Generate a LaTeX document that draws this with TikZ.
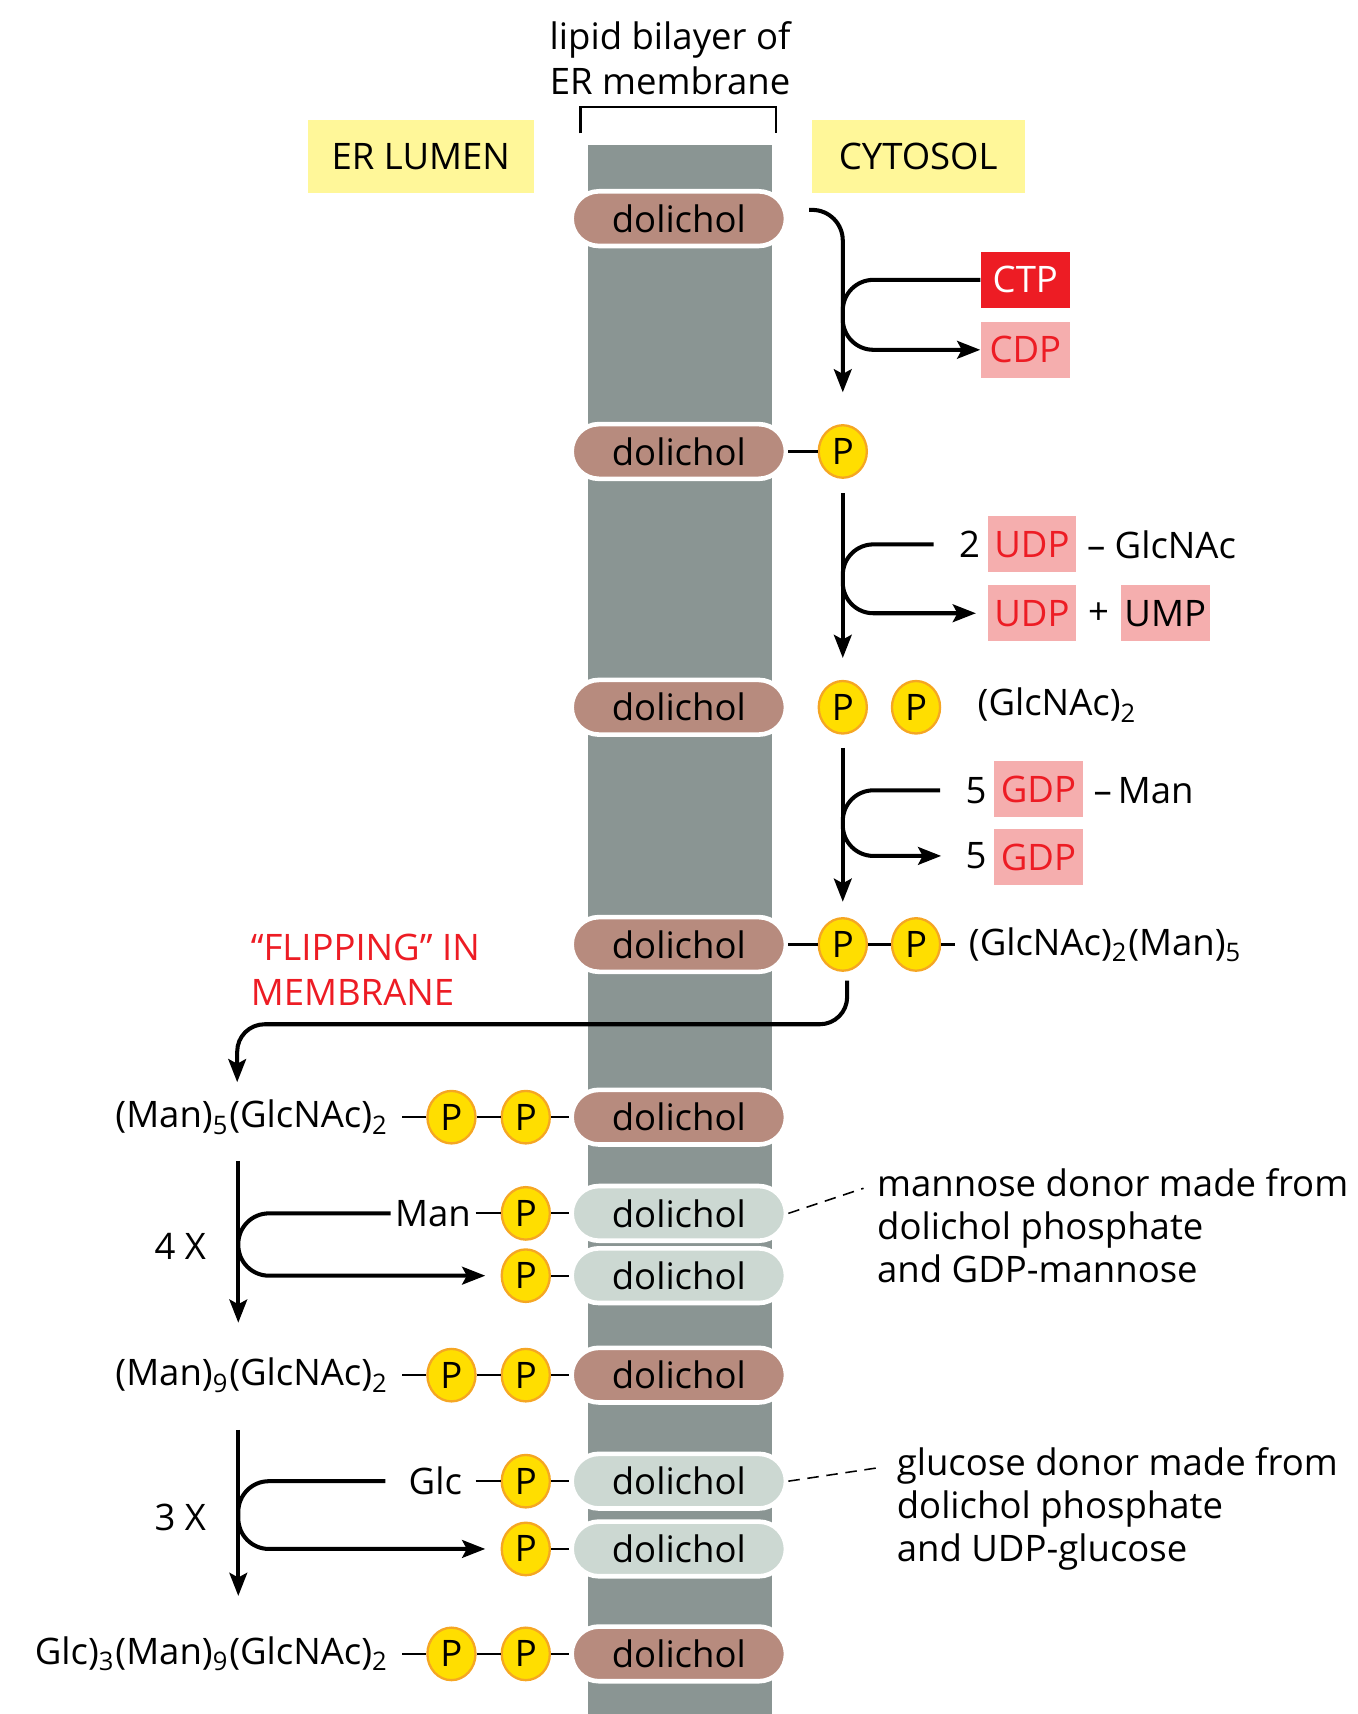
\documentclass[tikz,border=0pt]{standalone}
\usepackage{fontspec}
\setmainfont{Open Sans}
\usetikzlibrary{arrows.meta,shapes.geometric}
\definecolor{memgray}{HTML}{8A9593}
\definecolor{dolbrown}{HTML}{B78B7E}
\definecolor{dollight}{HTML}{CCD8D2}
\definecolor{pyellow}{HTML}{FFDE00}
\definecolor{porange}{HTML}{F5A623}
\definecolor{cyellow}{HTML}{FFF799}
\definecolor{cred}{HTML}{ED1C24}
\definecolor{cpink}{HTML}{F5AEAE}
\tikzset{
  dol/.style={draw=white,line width=1.2pt,rounded corners=0.25cm,minimum width=1.96cm,minimum height=0.5cm,inner sep=0pt},
  pho/.style={ellipse,draw=porange,line width=0.6pt,fill=pyellow,minimum width=0.44cm,minimum height=0.48cm,inner sep=0pt},
  redbox/.style={fill=cred,text=white,minimum width=0.81cm,minimum height=0.51cm,inner sep=0pt},
  pinkbox/.style={fill=cpink,text=cred,minimum width=0.81cm,minimum height=0.51cm,inner sep=0pt},
  ybox/.style={fill=cyellow,minimum height=0.67cm,inner sep=0pt},
  rxn/.style={->,line width=1.05pt,rounded corners=0.28cm},
  bond/.style={line width=0.55pt}
}
\begin{document}
\begin{tikzpicture}[x=0.01cm,y=-0.01cm,>={Stealth[length=6pt,width=4.6pt,inset=1.2pt]},font=\fontsize{9.5}{11.4}\selectfont]
\useasboundingbox (0,0) rectangle (1242,1568);
\fill[memgray] (538,133) rectangle (706,1568);
\draw[line width=0.6pt] (531,122) -- (531,98) -- (710,98) -- (710,122);
\node[align=center,font=\fontsize{9.5}{11.7}\selectfont] (bil) at (613,53) {lipid bilayer of\\ER membrane};
\node[ybox,minimum width=2.06cm] (lum) at (385,143) {ER LUMEN};
\node[ybox,minimum width=1.95cm] (cyt) at (840,143) {CYTOSOL};
% dolichol anchors in the bilayer
\foreach \y/\c [count=\i] in {200/dolbrown,413/dolbrown,647/dolbrown,864/dolbrown,1022/dolbrown,1110/dollight,1167/dollight,1258/dolbrown,1355/dollight,1417/dollight,1513/dolbrown}
  \node[dol,fill=\c] (d\i) at (621,\y) {dolichol};
% phosphates
\node[pho] (p2) at (771,413) {P};
\node[pho] (p3a) at (771,647) {P};\node[pho] (p3b) at (838,647) {P};
\node[pho] (p4a) at (771,864) {P};\node[pho] (p4b) at (838,864) {P};
\foreach \r/\y in {5/1022,8/1258,11/1513}{\node[pho] (pa\r) at (413,\y){P};\node[pho] (pb\r) at (481,\y){P};}
\foreach \r/\y in {6/1110,7/1167,9/1355,10/1417}\node[pho] (pb\r) at (481,\y){P};
% cytosolic side
\node[redbox] (ctp) at (938,256) {CTP};\node[pinkbox] (cdp) at (938,320) {CDP};
\node (n2) at (887,498) {2};\node[pinkbox] (udp1) at (944,498) {UDP};\node[anchor=west] (gna) at (982,498) {– GlcNAc};
\node[pinkbox] (udp2) at (944,561) {UDP};\node (plus) at (1005,561) {+};\node[pinkbox,text=black] (ump) at (1066,561) {UMP};
\node[anchor=west] (t3) at (882,645) {(GlcNAc)\textsubscript{2}};
\node (n5a) at (893,723) {5};\node[pinkbox] (gdp1) at (950,722) {GDP};\node[anchor=west] (man1) at (988,723) {–\,Man};
\node (n5b) at (893,783) {5};\node[pinkbox] (gdp2) at (950,784) {GDP};
\node[anchor=west] (t4) at (874,864) {(GlcNAc)\textsubscript{2}(Man)\textsubscript{5}};
% lumenal side
\node[anchor=north west,align=left,text=cred,font=\fontsize{9.5}{11.7}\selectfont] (flip) at (217,842) {“FLIPPING” IN\\MEMBRANE};
\node[anchor=east] (t5) at (368,1022) {(Man)\textsubscript{5}(GlcNAc)\textsubscript{2}};
\node[anchor=east,inner sep=1pt] (man) at (435,1110) {Man};
\node[anchor=east] (t8) at (368,1258) {(Man)\textsubscript{9}(GlcNAc)\textsubscript{2}};
\node[anchor=east] (glc) at (435,1355) {Glc};
\node[anchor=east] (t11) at (368,1513) {Glc)\textsubscript{3}(Man)\textsubscript{9}(GlcNAc)\textsubscript{2}};
\node (x4) at (165,1140) {4 X};\node (x3) at (165,1388) {3 X};
\node[anchor=north west,align=left,font=\fontsize{9.5}{11.1}\selectfont] (ann1) at (790,1057) {mannose donor made from\\dolichol phosphate\\and GDP-mannose};
\node[anchor=north west,align=left,font=\fontsize{9.5}{11.1}\selectfont] (ann2) at (808,1312) {glucose donor made from\\dolichol phosphate\\and UDP-glucose};
% bonds
\draw[bond] (d2) -- (p2);\draw[bond] (d4) -- (p4a) -- (p4b) -- (t4);
\draw[bond] (t5) -- (pa5) -- (pb5) -- (d5);\draw[bond] (man) -- (pb6) -- (d6);\draw[bond] (pb7) -- (d7);
\draw[bond] (t8) -- (pa8) -- (pb8) -- (d8);\draw[bond] (glc) -- (pb9) -- (d9);\draw[bond] (pb10) -- (d10);
\draw[bond] (t11) -- (pa11) -- (pb11) -- (d11);
\draw[densely dashed,line width=0.4pt] (d6.east) -- ([yshift=-0.3cm]ann1.north west);
\draw[densely dashed,line width=0.4pt] (d9.east) -- ([yshift=-0.3cm]ann2.north west);
% reactions
\draw[rxn] ([xshift=0.19cm,yshift=0.08cm]d1.east) -| ([yshift=0.29cm]p2.north);
\draw[rxn] (ctp.west) -- (ctp.west -| p2) -- (cdp.west -| p2) -- (cdp.west);
\draw[rxn] ([yshift=-0.13cm]p2.south) -- ([yshift=0.2cm]p3a.north);
\draw[rxn,shorten <=0.11cm] (n2.west) -- (n2.west -| p2) -- (udp2.west -| p2) -- ([xshift=-0.1cm]udp2.west);
\draw[rxn] ([yshift=-0.12cm]p3a.south) -- ([yshift=0.14cm]p4a.north);
\draw[rxn,shorten <=0.11cm,shorten >=0.1cm] (n5a.west) -- (n5a.west -| p3a) -- (n5b.west -| p3a) -- (n5b.west);
\coordinate (fc) at (217,937);\coordinate (fl) at (217,990);
\draw[rxn,rounded corners=0.25cm] ([xshift=0.04cm,yshift=-0.08cm]p4a.south) |- (fc) -- (fl);
\coordinate (v4a) at (218,1062);\coordinate (v4b) at (218,1210);
\coordinate (v3a) at (218,1308);\coordinate (v3b) at (218,1460);
\draw[rxn] (v4a) -- (v4b);\draw[rxn] (v3a) -- (v3b);
\draw[rxn] (man.west) -- (man.west -| v4a) -- (pb7.west -| v4a) -- ([xshift=-0.14cm]pb7.west);
\draw[rxn,shorten <=0.09cm] (glc.west) -- (glc.west -| v3a) -- (pb10.west -| v3a) -- ([xshift=-0.14cm]pb10.west);
\end{tikzpicture}
\end{document}
